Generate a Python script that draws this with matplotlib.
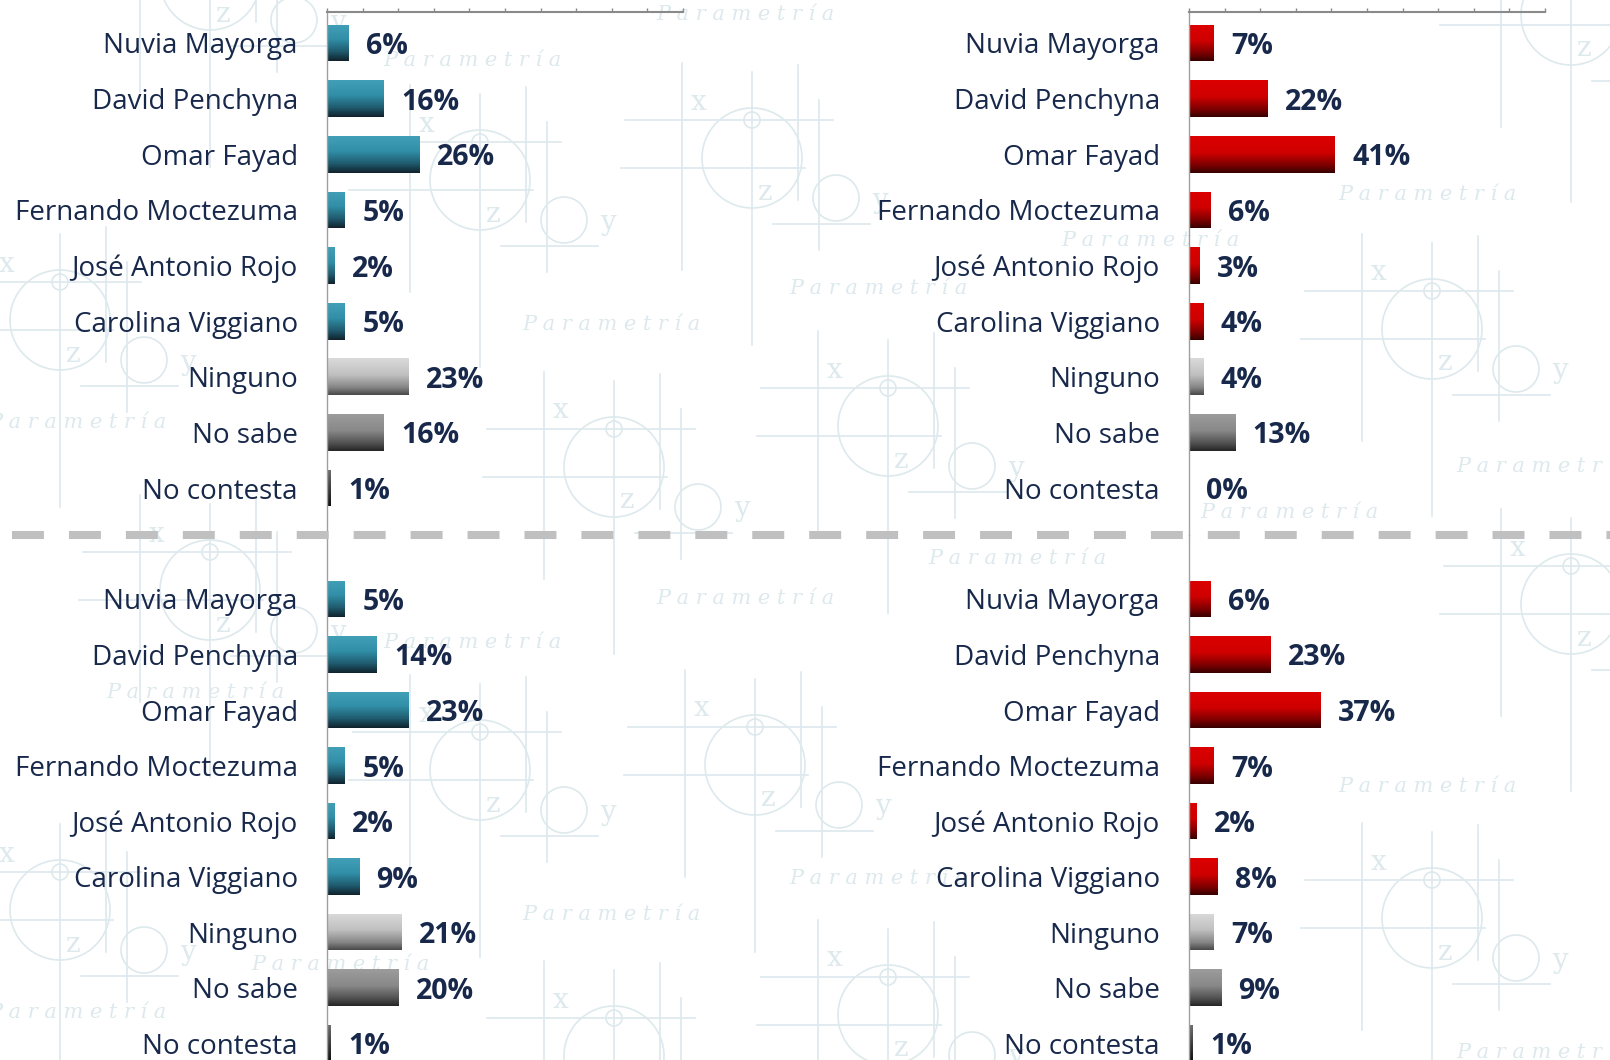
import numpy as np
import matplotlib
matplotlib.use("Agg")
import matplotlib.pyplot as plt
from matplotlib.colors import LinearSegmentedColormap
from matplotlib.patches import Circle

plt.rcParams['font.family'] = ['Open Sans', 'DejaVu Sans']

# Datos
categorias = ["Nuvia Mayorga", "David Penchyna", "Omar Fayad", "Fernando Moctezuma",
              "José Antonio Rojo", "Carolina Viggiano", "Ninguno", "No sabe", "No contesta"]
arriba_izq = [6, 16, 26, 5, 2, 5, 23, 16, 1]
arriba_der = [7, 22, 41, 6, 3, 4, 4, 13, 0]
abajo_izq = [5, 14, 23, 5, 2, 9, 21, 20, 1]
abajo_der = [6, 23, 37, 7, 2, 8, 7, 9, 1]

W, H = 1610, 1060
TXT = "#17284a"

cm_teal = LinearSegmentedColormap.from_list("teal", [(0, "#41a0b8"), (0.4, "#3190a8"), (0.75, "#1f5a6e"), (1, "#10232d")])
cm_rojo = LinearSegmentedColormap.from_list("rojo", [(0, "#dc0000"), (0.45, "#cf0000"), (0.8, "#7a0000"), (1, "#380000")])
cm_gris1 = LinearSegmentedColormap.from_list("g1", [(0, "#dadada"), (0.45, "#c0c0c0"), (0.8, "#858585"), (1, "#4a4a4a")])
cm_gris2 = LinearSegmentedColormap.from_list("g2", [(0, "#9c9c9c"), (0.45, "#888888"), (0.8, "#505050"), (1, "#262626")])
cm_gris3 = LinearSegmentedColormap.from_list("g3", [(0, "#707070"), (1, "#101010")])

fig = plt.figure(figsize=(W / 100, H / 100), dpi=100)
fig.patch.set_facecolor("white")

# Fondo: marca de agua (decorativo)
bg = fig.add_axes([0, 0, 1, 1], zorder=0)
bg.set_xlim(0, W)
bg.set_ylim(H, 0)
bg.axis("off")
wm = "#dde9ed"


def motivo(cx, cy, col=wm):
    bg.add_patch(Circle((cx, cy), 50, fill=False, ec=col, lw=1.2))
    bg.add_patch(Circle((cx, cy - 38), 8, fill=False, ec=col, lw=1.2))
    bg.add_patch(Circle((cx + 84, cy + 40), 23, fill=False, ec=col, lw=1.2))
    for (x0, x1, y) in [(-127, 81, -38), (-131, 53, 10), (21, 118, 66)]:
        bg.plot([cx + x0, cx + x1], [cy + y, cy + y], color=col, lw=1.2)
    for (x, y0, y1) in [(-70, -95, 112), (0, -86, 187), (46, -93, 42), (67, -58, 92)]:
        bg.plot([cx + x, cx + x], [cy + y0, cy + y1], color=col, lw=1.2)
    for (dx, dy, s) in [(-54, -56, "x"), (13, 34, "z"), (128, 42, "y")]:
        bg.text(cx + dx, cy + dy, s, color=col, fontsize=20, family="DejaVu Serif",
                ha="center", va="center")


motivos = [(752, 158), (614, 467), (888, 426), (1432, 329), (1571, 15), (210, -20),
           (60, 320), (480, 180), (755, 765), (614, 1056), (888, 1015), (1432, 918),
           (1571, 604), (210, 590), (60, 910), (480, 770)]
for cx, cy in motivos:
    motivo(cx, cy)

marcas = [(745, 14), (472, 60), (611, 325), (878, 288), (1427, 195), (1150, 241),
          (77, 423), (1545, 467), (1289, 513), (1017, 558), (745, 598), (472, 642),
          (195, 693), (878, 878), (611, 914), (1427, 786), (77, 1013), (1545, 1053), (340, 965)]
for x, y in marcas:
    bg.text(x, y, "P a r a m e t r í a", color=wm, fontsize=15, style="italic",
            family="DejaVu Serif", ha="center", va="center")

# Paneles
paneles = [
    (arriba_izq, cm_teal, 327, 12, 535, -0.557, 8.844, True),
    (arriba_der, cm_rojo, 1189, 12, 535, -0.557, 8.844, True),
    (abajo_izq, cm_teal, 327, 535, 1060, -1.153, 8.306, False),
    (abajo_der, cm_rojo, 1189, 535, 1060, -1.153, 8.306, False),
]

for valores, cm_cand, x0, ytop, ybot, lim_top, lim_bot, eje_sup in paneles:
    ax = fig.add_axes([x0 / W, 1 - ybot / H, 356 / W, (ybot - ytop) / H], zorder=2)
    ax.patch.set_alpha(0)
    y = np.arange(len(categorias))
    barras = ax.barh(y, valores, height=0.66, color="none", edgecolor="none")
    mapas = [cm_cand] * 6 + [cm_gris1, cm_gris2, cm_gris3]
    grad = np.linspace(0, 1, 64).reshape(-1, 1)
    for b, cmap in zip(barras, mapas):
        bx, by = b.get_x(), b.get_y()
        bw, bh = b.get_width(), b.get_height()
        if bw <= 0:
            continue
        im = ax.imshow(grad, cmap=cmap, aspect="auto", origin="upper",
                       extent=[bx, bx + bw, by + bh, by], zorder=2)
        im.set_clip_path(b)
    for yi, v in zip(y, valores):
        ax.annotate(f"{v}%", (v, yi), xytext=(12.5, 0), textcoords="offset points",
                    ha="left", va="center_baseline", fontsize=20.5, fontweight="bold", color=TXT)
    ax.set_xlim(0, 100)
    ax.set_ylim(lim_bot, lim_top)
    ax.set_yticks(y)
    ax.set_yticklabels(categorias, fontsize=20, color=TXT)
    ax.tick_params(axis="y", length=0, pad=21)
    ax.xaxis.tick_top()
    ax.set_xticks(np.arange(0, 101, 10))
    ax.set_xticklabels([])
    ax.tick_params(axis="x", length=3, width=1, color="#8a8a8a", direction="out")
    for s in ["right", "bottom"]:
        ax.spines[s].set_visible(False)
    ax.spines["left"].set_color("#a0a0a0")
    ax.spines["left"].set_linewidth(1)
    if eje_sup:
        ax.spines["top"].set_color("#8a8a8a")
        ax.spines["top"].set_linewidth(1.5)
    else:
        ax.spines["top"].set_visible(False)
        ax.tick_params(axis="x", length=0)

# Línea divisoria punteada
lw = 5.8
fig.add_artist(plt.Line2D([12 / W, 1], [1 - 535 / H, 1 - 535 / H], transform=fig.transFigure,
                          color="#c0c0c0", lw=lw, linestyle=(0, (23 / lw, 18 / lw)),
                          solid_capstyle="butt", dash_capstyle="butt", zorder=3))

fig.savefig("out.png", dpi=100, facecolor="white")
